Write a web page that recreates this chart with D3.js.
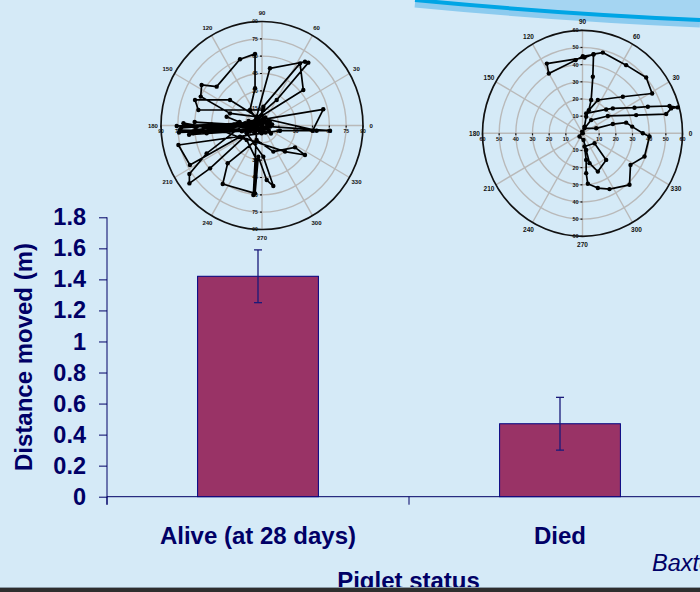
<!DOCTYPE html>
<html>
<head>
<meta charset="utf-8">
<script src="https://cdn.jsdelivr.net/npm/d3@7"></script>
<style>
  html, body { margin: 0; padding: 0; background: #d5eaf7; }
  svg { display: block; }
</style>
</head>
<body>
<svg id="chart" width="700" height="592"></svg>
<script>
// ---- Bar chart data ----
const categories = ["Alive (at 28 days)", "Died"];
const distanceMoved = [1.42, 0.47];
const standardError = [0.17, 0.17];
const yTickValues = [0, 0.2, 0.4, 0.6, 0.8, 1, 1.2, 1.4, 1.6, 1.8];
const yAxisTitle = "Distance moved (m)";
const xAxisTitle = "Piglet status";
const citation = "Baxter et al.";

// ---- Polar track plots (positions as [east, north] offsets from the start) ----
const compassAngles = [0, 30, 60, 90, 120, 150, 180, 210, 240, 270, 300, 330];
const aliveRings = [15, 30, 45, 60, 75, 90];
const diedRings = [10, 20, 30, 40, 50, 60];

const aliveTrack = [
  [0, 0.1], [-10.7, 13.4], [-6.2, 32.2], [-6.2, 62.0], [-19.6, 57.3], [-40.4, 33.6],
  [-53.8, 35.1], [-54.6, 25.0], [-28.5, 10.5], [-4.8, 7.6], [7.1, 49.5], [38.3, 55.2],
  [41.3, 54.4], [13.1, 22.1], [-10.7, 1.9], [36.8, 30.7], [33.9, 53.8], [1.2, 16.3],
  [-3, 2], [4, -2], [-6, -1], [2, 5], [-8, 3], [5, 1], [-2, -5], [7, 3],
  [-16.6, -1.0], [-76.0, -0.4], [-58.2, -1.0], [-19.6, 1.9], [54.6, 14.0], [45.1, -4.5],
  [16.0, -4.5], [-0.3, -6.8], [-74.5, -16.9], [-64.2, -34.2], [-19.6, -9.7], [20.5, -22.6],
  [38.3, -25.5], [29.4, -18.9], [10.1, -22.6], [-4.8, -12.5], [-30.6, -32.7], [-35.0, -50.6],
  [-6.2, -58.7], [-3.3, -27.0], [4.2, -47.2], [10.1, -52.4], [1.2, -27.0], [-13.7, -6.8],
  [-5, 6], [3, -6], [-9, -3], [6, 4], [-12, 4], [-49.3, -24.1], [-64.7, -42.0],
  [-64.7, -50.1], [-46.3, -37.1], [-10.7, -5.3], [-73.1, -3.9], [-61.2, -6.8], [-4.8, 1.3],
  [1.2, 13.4], [-56.7, 13.4], [-59.7, 22.1], [-28.5, 22.1], [-4.8, 7.6], [48.7, -4.5],
  [60.6, -4.5], [7.1, -1.0], [-49.3, -6.8], [-70, 2], [-40, -3], [-13.7, -12.5],
  [-4.8, -29.9], [-7.7, -60.2], [-4.8, -3.9], [-65, -8], [-20, 3], [-31.5, 7.6],
  [-8, -2], [4, 3], [-72, -2], [-15, 2], [-68, 0], [-10, -4], [-74, -6], [-25, 1],
  [-60, 3], [-5, -1], [6, -4], [-4, 4], [9, 1], [-7, -6], [3, 7], [-10, 0], [8, -7],
  [0, 9], [-6, 2], [-52, -2], [-18, -5], [-45, 1], [-3, -3], [0, 0.1]
];

const diedTrack = [
  [0.2, 0], [1.2, 3.9], [2.2, 9.7], [3.8, 13.5], [5.2, 19.4], [6.2, 32.9], [6.6, 45.9],
  [0.2, 44.9], [-4.2, 42.6], [-20.2, 34.8], [-21.4, 40.6], [1.2, 44.1], [6.6, 46.1],
  [12.2, 47.0], [26.2, 39.7], [38.2, 32.5], [41.8, 23.2], [24.2, 21.3], [9.2, 19.4],
  [2.2, 11.6], [14.2, 13.9], [18.2, 14.5], [31.2, 14.9], [39.2, 15.5], [52.2, 15.9],
  [57.2, 15.1], [53.2, 14.5], [50.2, 11.2], [32.2, 10.6], [15.2, 10.1], [5.2, 7.7],
  [1.2, 2.9], [8.2, 2.9], [18.2, 5.4], [26.2, 6.2], [29.8, 3.9], [36.2, 0], [40.2, -1.9],
  [37.2, -13.5], [28.8, -18.4], [28.2, -30.0], [16.2, -32.5], [9.2, -31.9], [3.2, -29.4],
  [2.2, -23.2], [2.2, -15.5], [1.2, -7.7], [7.2, -5.8], [14.2, -15.5], [9.2, -22.3],
  [4.2, -17.4], [2.2, -9.7], [0.6, -3.9], [-1.8, -1.9], [-0.2, 1.0]
];

const svg = d3.select("#chart");
const navy = "#000066";
const font = "Arial, 'Liberation Sans', sans-serif";

// background
svg.append("rect").attr("width", 700).attr("height", 592).attr("fill", "#d5eaf7");

// sweeping band in the top-right corner
svg.append("path")
  .attr("d", "M415,0 Q560,14 700,20 L700,0 Z")
  .attr("fill", "#a5d5f2");
svg.append("path")
  .attr("d", "M415,0 Q560,14 700,20")
  .attr("fill", "none").attr("stroke", "#8ccbef").attr("stroke-width", 9)
  .attr("transform", "translate(0,3)");
svg.append("path")
  .attr("d", "M415,0 Q560,14 700,20")
  .attr("fill", "none").attr("stroke", "#00a5e5").attr("stroke-width", 4);

// ---- Bar chart ----
const y = d3.scaleLinear().domain([0, 1.8]).range([496.7, 217.3]);
const x = d3.scaleBand().domain(categories).range([107, 711])
  .paddingInner(0.6).paddingOuter(0.3);

const yAxis = svg.append("g")
  .attr("transform", "translate(107,0)")
  .call(d3.axisLeft(y).tickValues(yTickValues).tickSize(8).tickSizeOuter(0)
    .tickPadding(13).tickFormat(d3.format("")));
yAxis.select(".domain").remove();
yAxis.selectAll(".tick line").attr("stroke", navy);
yAxis.selectAll(".tick text")
  .attr("fill", navy).attr("font-family", font).attr("font-weight", "bold")
  .attr("font-size", 23.5);

// axis lines
svg.append("line").attr("x1", 107).attr("x2", 107)
  .attr("y1", y(1.8)).attr("y2", y(0) + 8).attr("stroke", navy);
svg.append("line").attr("x1", 107).attr("x2", 700)
  .attr("y1", y(0)).attr("y2", y(0)).attr("stroke", navy);

// category boundary ticks
const step = x.step();
const boundaries = d3.range(categories.length + 1).map(i => x.range()[0] + i * step);
svg.selectAll(".xbound").data(boundaries).join("line")
  .attr("x1", d => d).attr("x2", d => d)
  .attr("y1", y(0)).attr("y2", y(0) + 8).attr("stroke", navy);

// bars
svg.selectAll(".bar").data(categories).join("rect")
  .attr("x", d => x(d))
  .attr("width", x.bandwidth())
  .attr("y", (d, i) => y(distanceMoved[i]))
  .attr("height", (d, i) => y(0) - y(distanceMoved[i]))
  .attr("fill", "#993366")
  .attr("stroke", "#000080").attr("stroke-width", 1);

// error bars
const eb = svg.selectAll(".err").data(categories).join("g");
eb.append("line")
  .attr("x1", d => x(d) + x.bandwidth() / 2).attr("x2", d => x(d) + x.bandwidth() / 2)
  .attr("y1", (d, i) => y(distanceMoved[i] + standardError[i]))
  .attr("y2", (d, i) => y(distanceMoved[i] - standardError[i]))
  .attr("stroke", "#1a1a7a").attr("stroke-width", 1.3);
[1, -1].forEach(sign => {
  eb.append("line")
    .attr("x1", d => x(d) + x.bandwidth() / 2 - 4).attr("x2", d => x(d) + x.bandwidth() / 2 + 4)
    .attr("y1", (d, i) => y(distanceMoved[i] + sign * standardError[i]))
    .attr("y2", (d, i) => y(distanceMoved[i] + sign * standardError[i]))
    .attr("stroke", "#1a1a7a").attr("stroke-width", 1.3);
});

// category labels
const xAxis = svg.append("g")
  .attr("transform", `translate(0,${y(0)})`)
  .call(d3.axisBottom(x).tickSize(0).tickPadding(30));
xAxis.select(".domain").remove();
xAxis.selectAll(".tick text")
  .attr("fill", navy).attr("font-family", font).attr("font-weight", "bold")
  .attr("font-size", 24);

// axis titles
svg.append("text")
  .attr("transform", "translate(32,357) rotate(-90)")
  .attr("text-anchor", "middle")
  .attr("fill", navy).attr("font-family", font).attr("font-weight", "bold")
  .attr("font-size", 24)
  .text(yAxisTitle);

svg.append("text")
  .attr("x", 408.5).attr("y", 589)
  .attr("text-anchor", "middle")
  .attr("fill", navy).attr("font-family", font).attr("font-weight", "bold")
  .attr("font-size", 24)
  .text(xAxisTitle);

svg.append("text")
  .attr("x", 652).attr("y", 570.7)
  .attr("fill", navy).attr("font-family", font).attr("font-style", "italic")
  .attr("font-size", 23.5)
  .text(citation);

// ---- Polar track plots ----
function drawPolar(opts) {
  const { cx, cy, rx, ry, rings, track, labelSize } = opts;
  const max = d3.max(rings);
  const g = svg.append("g");
  const px = d3.scaleLinear().domain([-max, max]).range([cx - rx, cx + rx]);
  const py = d3.scaleLinear().domain([-max, max]).range([cy + ry, cy - ry]);
  const rad = a => a * Math.PI / 180;

  // inner rings
  g.selectAll(".ring").data(rings.filter(r => r < max)).join("ellipse")
    .attr("cx", px(0)).attr("cy", py(0))
    .attr("rx", r => px(r) - px(0)).attr("ry", r => py(0) - py(r))
    .attr("fill", "none").attr("stroke", "#b9b9b9").attr("stroke-width", 1.4);

  // spokes
  g.selectAll(".spoke").data(compassAngles).join("line")
    .attr("x1", px(0)).attr("y1", py(0))
    .attr("x2", a => px(max * Math.cos(rad(a))))
    .attr("y2", a => py(max * Math.sin(rad(a))))
    .attr("stroke", "#b9b9b9").attr("stroke-width", 1.4);

  // outer ring
  g.append("ellipse")
    .attr("cx", px(0)).attr("cy", py(0))
    .attr("rx", px(max) - px(0)).attr("ry", py(0) - py(max))
    .attr("fill", "none").attr("stroke", "#111").attr("stroke-width", 1.7);

  // angle labels
  g.selectAll(".alab").data(compassAngles).join("text")
    .attr("x", a => px(max * 1.08 * Math.cos(rad(a))))
    .attr("y", a => py(max * 1.08 * Math.sin(rad(a))))
    .attr("dy", "0.35em")
    .attr("text-anchor", "middle")
    .attr("font-family", font).attr("font-weight", "bold")
    .attr("font-size", labelSize).attr("fill", "#111")
    .text(a => a);

  // radial tick marks and labels along the axes
  const axisTicks = [];
  rings.forEach(r => {
    axisTicks.push({ v: r, x: r, y: 0, h: true });
    axisTicks.push({ v: r, x: -r, y: 0, h: true });
    axisTicks.push({ v: r, x: 0, y: r, h: false });
    axisTicks.push({ v: r, x: 0, y: -r, h: false });
  });
  g.selectAll(".rtick").data(axisTicks).join("line")
    .attr("x1", d => px(d.x) - (d.h ? 0 : 2)).attr("x2", d => px(d.x))
    .attr("y1", d => py(d.y)).attr("y2", d => py(d.y) + (d.h ? 2 : 0))
    .attr("stroke", "#111").attr("stroke-width", 1.2);
  g.selectAll(".rlab").data(axisTicks).join("text")
    .attr("x", d => d.h ? px(d.x) : px(d.x) - 7)
    .attr("y", d => d.h ? py(d.y) + 6 : py(d.y))
    .attr("dy", "0.35em")
    .attr("text-anchor", "middle")
    .attr("font-family", font).attr("font-weight", "bold")
    .attr("font-size", labelSize - 1).attr("fill", "#111")
    .text(d => d.v);

  // movement track
  g.append("path")
    .datum(track)
    .attr("d", d3.line().x(d => px(d[0])).y(d => py(d[1])))
    .attr("fill", "none").attr("stroke", "#000").attr("stroke-width", 1.7)
    .attr("stroke-linejoin", "round");
  g.selectAll(".pt").data(track).join("circle")
    .attr("cx", d => px(d[0])).attr("cy", d => py(d[1]))
    .attr("r", 2.2).attr("fill", "#000");
}

drawPolar({ cx: 262, cy: 125.5, rx: 101, ry: 104, rings: aliveRings, track: aliveTrack, labelSize: 6 });
drawPolar({ cx: 582.5, cy: 133.3, rx: 100, ry: 103, rings: diedRings, track: diedTrack, labelSize: 6.5 });

// bottom frame line
svg.append("rect").attr("x", 0).attr("y", 587).attr("width", 700).attr("height", 1)
  .attr("fill", "#8a9aa6");
svg.append("rect").attr("x", 0).attr("y", 588).attr("width", 700).attr("height", 4)
  .attr("fill", "#2e2e2e");
</script>
</body>
</html>
